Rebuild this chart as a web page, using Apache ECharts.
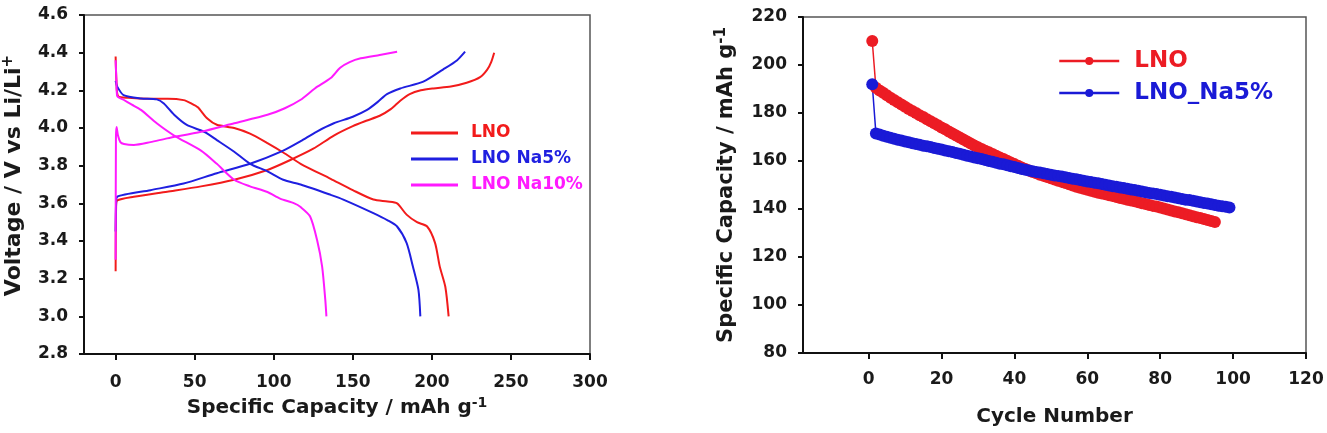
<!DOCTYPE html>
<html><head><meta charset="utf-8">
<script src="https://cdn.jsdelivr.net/npm/echarts@6/dist/echarts.min.js"></script>
<style>html,body{margin:0;padding:0;background:#fff}#c{width:1327px;height:433px}</style>
</head><body><div id="c"></div><script>
// ---------- Left chart: voltage profiles [capacity mAh/g, voltage V] ----------
const lnoCharge = [[0,3.24],[0.3,3.58],[1,3.615],[11.5,3.635],[32.6,3.662],[54,3.69],[75,3.725],[96,3.777],[110.5,3.83],[125,3.89],[138,3.96],[150,4.01],[159,4.04],[167,4.065],[174,4.10],[180,4.145],[186,4.18],[193,4.2],[201,4.21],[212,4.22],[222,4.24],[230.5,4.27],[235,4.31],[237.5,4.35],[239.4,4.40]];
const lnoDischarge = [[0,4.38],[0.5,4.25],[1.5,4.17],[8,4.16],[22,4.155],[33,4.155],[43,4.148],[48,4.13],[52,4.11],[58,4.05],[64,4.017],[75,4.0],[85,3.97],[96,3.92],[106,3.87],[117,3.81],[136,3.73],[150,3.67],[163,3.62],[172,3.61],[178,3.60],[184,3.54],[190.6,3.50],[197,3.477],[202,3.39],[205,3.264],[208.5,3.157],[210.6,3.0]];
const na5Charge = [[0,3.45],[0.3,3.6],[1,3.635],[22,3.67],[43,3.705],[64,3.76],[85,3.81],[106,3.88],[117,3.93],[127,3.98],[138,4.025],[150,4.06],[159,4.096],[166,4.14],[171.6,4.18],[180,4.21],[194.6,4.246],[207,4.31],[216,4.36],[221,4.405]];
const na5Discharge = [[0,4.25],[1,4.22],[5,4.175],[16,4.157],[26,4.152],[30.5,4.13],[37,4.07],[45,4.016],[56,3.98],[64,3.936],[75,3.874],[85,3.81],[96,3.77],[106,3.725],[117,3.70],[136,3.645],[144,3.62],[163,3.548],[172,3.51],[178,3.477],[184,3.39],[188,3.264],[191.5,3.14],[192.7,3.0]];
const na10Charge = [[0,3.30],[0.2,3.95],[0.6,4.005],[1.5,3.96],[3,3.925],[5.3,3.915],[11.5,3.91],[22,3.925],[32.6,3.945],[54,3.98],[75,4.025],[96,4.07],[107,4.105],[117,4.15],[126,4.21],[136,4.265],[142,4.32],[148,4.35],[155,4.37],[167,4.388],[178,4.405]];
const na10Discharge = [[0,4.36],[0.5,4.25],[1,4.17],[5,4.15],[10,4.125],[16,4.096],[26,4.025],[37,3.96],[54,3.88],[64,3.81],[75,3.725],[85,3.69],[96,3.66],[104,3.625],[113,3.60],[117,3.58],[123,3.53],[127.4,3.405],[130.6,3.264],[132.6,3.087],[133.3,3.0]];
const capacityTicks = [0,50,100,150,200,250,300];

// ---------- Right chart: cycling capacity (mAh/g), cycle 1..n ----------
const lnoCycling = [210,190.5,189.4,188.4,187.4,186.4,185.4,184.5,183.5,182.6,
181.7,180.8,180.0,179.1,178.3,177.4,176.6,175.7,174.9,174.0,
173.2,172.3,171.5,170.6,169.8,169.0,168.1,167.3,166.5,165.7,
165.0,164.3,163.6,162.9,162.2,161.5,160.8,160.1,159.4,158.7,
158.0,157.3,156.7,156.0,155.4,154.9,154.3,153.8,153.3,152.8,
152.3,151.8,151.3,150.8,150.3,149.8,149.3,148.9,148.4,148.0,
147.6,147.2,146.8,146.5,146.1,145.7,145.4,145.0,144.6,144.3,
143.9,143.5,143.2,142.8,142.4,142.1,141.7,141.3,141.0,140.6,
140.2,139.8,139.4,139.0,138.6,138.2,137.8,137.4,137.0,136.6,
136.2,135.8,135.4,135.0,134.6];
const na5Cycling = [192,171.5,171.0,170.5,170.1,169.7,169.3,168.9,168.5,168.1,
167.8,167.4,167.1,166.8,166.4,166.1,165.8,165.4,165.1,164.8,
164.4,164.1,163.7,163.3,163.0,162.6,162.2,161.9,161.5,161.1,
160.8,160.4,160.0,159.7,159.3,158.9,158.6,158.2,157.8,157.5,
157.1,156.7,156.4,156.0,155.7,155.4,155.2,154.9,154.6,154.3,
154.0,153.8,153.5,153.2,152.9,152.6,152.4,152.1,151.8,151.5,
151.2,150.9,150.7,150.4,150.1,149.8,149.5,149.3,149.0,148.7,
148.4,148.1,147.9,147.6,147.3,147.0,146.7,146.5,146.2,145.9,
145.6,145.3,145.1,144.8,144.5,144.2,143.9,143.7,143.4,143.1,
142.8,142.5,142.3,142.0,141.7,141.4,141.1,140.9,140.6];
const cycleTicks = [0,20,40,60,80,100,120];

const FONT = "'DejaVu Sans', sans-serif";
const TXT = '#1a1a1a';
const C = {red:'#f21b1b', blue:'#1f1fe0', mag:'#ff1aff', red2:'#ec1c24', blue2:'#1a1ad6'};
const withCycle = arr => arr.map((v,i)=>[i+1, v]);

function axisCommon() {
  return {
    axisLine:{show:true, onZero:false, lineStyle:{color:'#111', width:2}},
    axisTick:{show:true, inside:false, length:6, lineStyle:{color:'#111', width:2}},
    splitLine:{show:false},
    axisLabel:{color:TXT, fontFamily:FONT, fontWeight:'bold', fontSize:17}
  };
}
function lineS(name, data, color, xi) {
  return {name, type:'line', data, xAxisIndex:xi, yAxisIndex:xi, showSymbol:false, symbol:'none',
    smooth:0.25, lineStyle:{color, width:2}, itemStyle:{color}, animation:false};
}
function cycS(name, data, color) {
  return {name, type:'line', data, xAxisIndex:1, yAxisIndex:1, symbol:'circle', symbolSize:12,
    lineStyle:{color, width:1.5}, itemStyle:{color}, animation:false};
}
function titleStyle(size, extra) {
  return Object.assign({color:TXT, fontFamily:FONT, fontWeight:'bold', fontSize:size,
    rich:{a:{fontFamily:FONT, fontWeight:'bold', fontSize:size, lineHeight:size+4, color:TXT},
          s:{fontFamily:FONT, fontWeight:'bold', fontSize:Math.round(size*0.7), lineHeight:Math.round(size*0.7), verticalAlign:'top', color:TXT}}}, extra||{});
}

const x0 = axisCommon(), x1 = axisCommon(), y0 = axisCommon(), y1 = axisCommon();
const nameMap = {'LNO (cycling)':'LNO'};

const option = {
  animation:false,
  backgroundColor:'#fff',
  grid:[
    {left:83, top:15, width:507, height:339, show:true, borderColor:'#555', borderWidth:1.5, containLabel:false},
    {left:803, top:17, width:503, height:336, show:true, borderColor:'#555', borderWidth:1.5, containLabel:false}
  ],
  xAxis:[
    Object.assign(x0, {type:'value', gridIndex:0, min:-20, max:300,
      axisTick:Object.assign(x0.axisTick, {customValues:capacityTicks}),
      axisLabel:Object.assign(x0.axisLabel, {customValues:capacityTicks, margin:20}),
      name:'{a|Specific Capacity / mAh g}{s|-1}', nameLocation:'middle', nameGap:20, nameTextStyle:titleStyle(20)}),
    Object.assign(x1, {type:'value', gridIndex:1, min:-18, max:120,
      axisTick:Object.assign(x1.axisTick, {customValues:cycleTicks}),
      axisLabel:Object.assign(x1.axisLabel, {customValues:cycleTicks, margin:18}),
      name:'Cycle Number', nameLocation:'middle', nameGap:54, nameTextStyle:titleStyle(20)})
  ],
  yAxis:[
    Object.assign(y0, {type:'value', gridIndex:0, min:2.8, max:4.6, interval:0.2,
      axisLabel:Object.assign(y0.axisLabel, {margin:16, formatter:v=>v.toFixed(1)}),
      axisTick:Object.assign(y0.axisTick, {length:5}),
      name:'{a|Voltage / V vs Li/Li}{s|+}', nameLocation:'middle', nameGap:57,
      nameTextStyle:titleStyle(22, {padding:[0,0,0,18]})}),
    Object.assign(y1, {type:'value', gridIndex:1, min:80, max:220, interval:20,
      axisLabel:Object.assign(y1.axisLabel, {margin:16}),
      axisTick:Object.assign(y1.axisTick, {length:5}),
      name:'{a|Specific Capacity / mAh g}{s|-1}', nameLocation:'middle', nameGap:64, nameTextStyle:titleStyle(21)})
  ],
  legend:[
    {left:406, top:118, orient:'vertical', icon:'rect', itemWidth:47, itemHeight:3, itemGap:6,
     textStyle:{fontFamily:FONT, fontWeight:'bold', fontSize:17, lineHeight:20, padding:[0,0,0,8]},
     data:[{name:'LNO', textStyle:{color:C.red}}, {name:'LNO Na5%', textStyle:{color:C.blue}}, {name:'LNO Na10%', textStyle:{color:C.mag}}]},
    {left:1053, top:43, orient:'vertical', itemWidth:60, itemHeight:10, itemGap:6,
     lineStyle:{width:2.5},
     textStyle:{fontFamily:FONT, fontWeight:'bold', fontSize:23, lineHeight:26, padding:[0,0,0,10]},
     formatter:n=>nameMap[n]||n,
     data:[{name:'LNO (cycling)', textStyle:{color:C.red2}}, {name:'LNO_Na5%', textStyle:{color:C.blue2}}]}
  ],
  series:[
    lineS('LNO', lnoCharge, C.red, 0),
    lineS('LNO', lnoDischarge, C.red, 0),
    lineS('LNO Na5%', na5Charge, C.blue, 0),
    lineS('LNO Na5%', na5Discharge, C.blue, 0),
    lineS('LNO Na10%', na10Charge, C.mag, 0),
    lineS('LNO Na10%', na10Discharge, C.mag, 0),
    cycS('LNO (cycling)', withCycle(lnoCycling), C.red2),
    cycS('LNO_Na5%', withCycle(na5Cycling), C.blue2)
  ]
};
const chart = echarts.init(document.getElementById('c'), null, {renderer:'canvas'});
chart.setOption(option);
</script></body></html>
